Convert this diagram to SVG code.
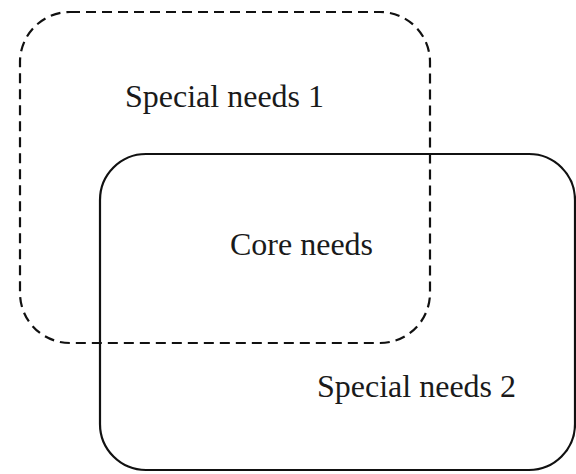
<svg xmlns="http://www.w3.org/2000/svg" width="576" height="474" viewBox="0 0 576 474">
<style>
.lbl{font-family:"Liberation Serif","Times New Roman",serif;font-size:32px;fill:#1a1a1a}
.solid{fill:none;stroke:#111;stroke-width:2.2}
.dash{fill:none;stroke:#111;stroke-width:2.2;stroke-dasharray:10 6}
</style>
<rect width="576" height="474" fill="#fff"/>
<g id="special2">
<rect class="solid" x="100" y="154" width="475" height="316" rx="46" ry="46"/>
<text class="lbl" x="317" y="397">Special needs 2</text>
</g>
<g id="special1">
<rect class="dash" x="20" y="12" width="410" height="331" rx="50" ry="50"/>
<text class="lbl" x="125" y="107">Special needs 1</text>
</g>
<g id="core">
<text class="lbl" x="230" y="255">Core needs</text>
</g>
<g id="connectors"/>
</svg>
